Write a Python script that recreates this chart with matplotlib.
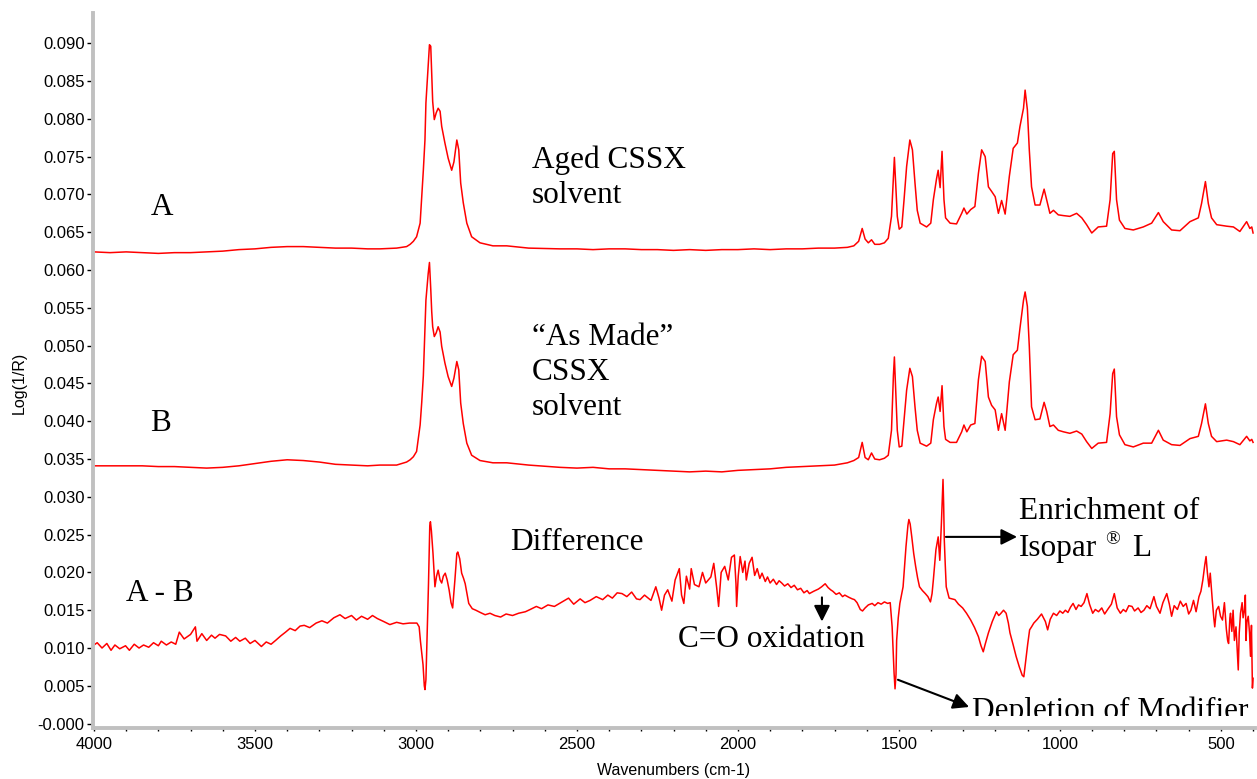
import matplotlib
matplotlib.use("Agg")
import matplotlib.pyplot as plt
import numpy as np
from matplotlib.transforms import Bbox, TransformedBbox

# ---------------- data ----------------
wn_ab = [4000, 3950, 3900, 3850, 3800, 3750, 3700, 3650, 3600, 3550,
         3500, 3450, 3400, 3350, 3300, 3250, 3200, 3150, 3112, 3060,
         3029, 3018, 3008, 2998, 2987, 2982, 2977, 2972, 2969, 2962,
         2958, 2954, 2951, 2948, 2943, 2937, 2931, 2925, 2920, 2910,
         2900, 2889, 2882, 2873, 2867, 2861, 2853, 2842, 2827, 2801,
         2761, 2718, 2650, 2553, 2500, 2450, 2400, 2350, 2300, 2250,
         2200, 2150, 2100, 2050, 2000, 1950, 1900, 1850, 1800, 1750,
         1700, 1660, 1640, 1625, 1614, 1605, 1595, 1585, 1575, 1560,
         1545, 1533, 1523, 1517, 1514, 1510, 1505, 1499, 1491, 1484,
         1476, 1466, 1458, 1450, 1443, 1434, 1414, 1401, 1393, 1383,
         1378, 1372, 1366, 1360, 1355, 1341, 1321, 1305, 1298, 1289,
         1277, 1264, 1253, 1243, 1232, 1222, 1212, 1201, 1191, 1181,
         1170, 1157, 1145, 1132, 1124, 1113, 1108, 1101, 1095, 1088,
         1077, 1062, 1049, 1041, 1031, 1020, 1005, 989, 969, 948,
         932, 917, 901, 881, 855, 844, 836, 831, 824, 815,
         798, 772, 741, 715, 694, 679, 653, 627, 596, 570,
         560, 548, 539, 529, 513, 482, 461, 441, 420, 410,
         404, 400]

aged_a = [.0624, .0623, .0624, .0623, .0622, .0623, .0623, .0624, .0625, .0627,
          .0628, .0630, .0631, .0631, .0630, .0629, .0629, .0628, .0628, .0629,
          .0631, .0634, .0638, .0644, .0662, .0697, .0732, .0772, .0821, .0869,
          .0898, .0896, .0861, .0823, .0799, .0808, .0814, .0810, .0790, .0768,
          .0748, .0732, .0743, .0772, .0759, .0715, .0689, .0662, .0644, .0636,
          .0632, .0632, .0629, .0628, .0628, .0627, .0628, .0628, .0627, .0627,
          .0626, .0627, .0626, .0627, .0627, .0628, .0627, .0628, .0628, .0629,
          .0629, .0630, .0632, .0638, .0655, .0641, .0636, .0640, .0634, .0634,
          .0636, .0642, .0671, .0724, .0749, .0715, .0671, .0654, .0657, .0693,
          .0737, .0772, .0759, .0715, .0679, .0662, .0657, .0662, .0693, .0721,
          .0732, .0709, .0757, .0693, .0669, .0662, .0661, .0675, .0682, .0674,
          .0680, .0684, .0728, .0759, .0750, .0710, .0704, .0697, .0675, .0692,
          .0674, .0724, .0761, .0768, .0790, .0814, .0838, .0812, .0759, .0710,
          .0686, .0686, .0707, .0693, .0675, .0679, .0673, .0672, .0671, .0675,
          .0669, .0660, .0649, .0657, .0658, .0693, .0754, .0757, .0693, .0666,
          .0655, .0653, .0657, .0662, .0676, .0664, .0653, .0652, .0664, .0669,
          .0688, .0717, .0688, .0669, .0660, .0658, .0657, .0651, .0664, .0655,
          .0657, .0649]

made_b = [.0341, .0341, .0341, .0341, .0340, .0340, .0339, .0338, .0339, .0341,
          .0344, .0347, .0349, .0348, .0346, .0343, .0342, .0341, .0342, .0342,
          .0346, .0349, .0353, .0360, .0395, .0425, .0460, .0520, .0560, .0595,
          .0610, .0575, .0545, .0525, .0512, .0517, .0525, .0518, .0499, .0477,
          .0459, .0446, .0457, .0479, .0468, .0424, .0397, .0371, .0355, .0348,
          .0345, .0345, .0342, .0339, .0338, .0339, .0337, .0337, .0336, .0335,
          .0334, .0333, .0334, .0333, .0335, .0336, .0337, .0339, .0340, .0341,
          .0342, .0345, .0348, .0352, .0372, .0352, .0349, .0358, .0350, .0349,
          .0351, .0355, .0388, .0461, .0485, .0441, .0388, .0366, .0367, .0402,
          .0441, .0470, .0459, .0419, .0388, .0371, .0367, .0371, .0402, .0424,
          .0432, .0413, .0447, .0393, .0376, .0372, .0372, .0386, .0395, .0386,
          .0395, .0397, .0455, .0486, .0479, .0432, .0421, .0415, .0388, .0410,
          .0388, .0452, .0488, .0494, .0523, .0560, .0571, .0552, .0499, .0419,
          .0402, .0403, .0425, .0413, .0393, .0395, .0388, .0386, .0384, .0387,
          .0383, .0373, .0364, .0371, .0372, .0410, .0463, .0469, .0406, .0382,
          .0369, .0366, .0371, .0371, .0388, .0375, .0369, .0368, .0377, .0380,
          .0397, .0423, .0397, .0380, .0373, .0375, .0373, .0369, .0380, .0374,
          .0376, .0372]

wn_diff = [4000, 3990, 3975, 3960, 3947, 3935, 3920, 3902, 3890, 3875,
           3860, 3846, 3830, 3815, 3800, 3791, 3775, 3760, 3746, 3735,
           3720, 3700, 3685, 3680, 3665, 3650, 3635, 3624, 3610, 3591,
           3575, 3560, 3547, 3530, 3515, 3500, 3480, 3465, 3450, 3436,
           3420, 3405, 3391, 3375, 3360, 3347, 3330, 3310, 3292, 3275,
           3255, 3236, 3220, 3200, 3185, 3169, 3150, 3135, 3120, 3100,
           3081, 3060, 3040, 3020, 2997, 2990, 2986, 2978, 2974, 2972,
           2969, 2966, 2961, 2957, 2955, 2952, 2947, 2941, 2936, 2931,
           2925, 2920, 2915, 2909, 2903, 2897, 2891, 2886, 2879, 2873,
           2870, 2864, 2858, 2852, 2847, 2836, 2825, 2814, 2800, 2785,
           2770, 2755, 2737, 2720, 2700, 2681, 2660, 2645, 2626, 2610,
           2590, 2570, 2550, 2526, 2510, 2490, 2475, 2459, 2440, 2420,
           2404, 2390, 2375, 2360, 2345, 2330, 2315, 2304, 2290, 2270,
           2255, 2245, 2237, 2228, 2218, 2205, 2195, 2182, 2175, 2168,
           2160, 2150, 2145, 2135, 2121, 2110, 2100, 2084, 2075, 2066,
           2060, 2052, 2041, 2030, 2020, 2011, 2006, 2004, 1999, 1993,
           1985, 1978, 1974, 1965, 1956, 1948, 1940, 1932, 1925, 1915,
           1908, 1900, 1890, 1880, 1872, 1864, 1855, 1845, 1835, 1825,
           1815, 1805, 1795, 1785, 1778, 1765, 1750, 1740, 1729, 1720,
           1712, 1705, 1695, 1685, 1675, 1668, 1655, 1645, 1638, 1630,
           1620, 1613, 1605, 1595, 1583, 1575, 1565, 1555, 1545, 1535,
           1527, 1521, 1515, 1512, 1509, 1507, 1502, 1497, 1487, 1478,
           1472, 1469, 1465, 1460, 1454, 1448, 1442, 1436, 1427, 1418,
           1410, 1402, 1397, 1393, 1385, 1378, 1373, 1368, 1365, 1363,
           1361, 1359, 1356, 1353, 1344, 1335, 1326, 1315, 1302, 1290,
           1277, 1265, 1253, 1245, 1238, 1232, 1222, 1210, 1197, 1190,
           1185, 1175, 1167, 1160, 1155, 1145, 1136, 1126, 1117, 1112,
           1106, 1100, 1094, 1088, 1081, 1070, 1057, 1045, 1038, 1030,
           1020, 1010, 1000, 991, 983, 975, 967, 959, 950, 942,
           934, 925, 916, 908, 898, 890, 880, 870, 861, 850,
           840, 831, 822, 812, 803, 795, 786, 776, 768, 757,
           748, 739, 730, 720, 708, 700, 689, 680, 668, 660,
           653, 645, 635, 626, 617, 608, 600, 593, 585, 577,
           568, 562, 556, 550, 546, 542, 537, 533, 527, 522,
           519, 514, 507, 501, 495, 489, 483, 479, 476, 472,
           470, 466, 462, 458, 453, 449, 446, 443, 439, 434,
           431, 427, 424, 422, 419, 415, 411, 408, 405, 402,
           400]

diff_ab = [.0104, .0107, .0100, .0106, .0097, .0104, .0099, .0103, .0097, .0105,
           .0100, .0104, .0101, .0107, .0103, .0109, .0104, .0108, .0105, .0121,
           .0112, .0118, .0128, .0109, .0119, .0110, .0117, .0113, .0118, .0116,
           .0109, .0114, .0109, .0113, .0106, .0110, .0102, .0108, .0105, .0110,
           .0116, .0121, .0126, .0123, .0129, .0130, .0127, .0133, .0136, .0133,
           .0140, .0144, .0139, .0143, .0137, .0142, .0138, .0143, .0139, .0135,
           .0131, .0134, .0132, .0133, .0133, .0128, .0109, .0078, .0050, .0045,
           .0058, .0106, .0185, .0262, .0267, .0255, .0225, .0181, .0195, .0203,
           .0190, .0186, .0195, .0199, .0190, .0177, .0160, .0153, .0190, .0225,
           .0227, .0218, .0199, .0192, .0185, .0159, .0152, .0150, .0147, .0144,
           .0146, .0143, .0141, .0145, .0143, .0146, .0148, .0151, .0155, .0152,
           .0157, .0155, .0160, .0166, .0158, .0165, .0160, .0163, .0168, .0164,
           .0170, .0166, .0173, .0172, .0168, .0174, .0165, .0164, .0170, .0163,
           .0181, .0166, .0150, .0170, .0177, .0162, .0190, .0205, .0170, .0159,
           .0195, .0178, .0205, .0184, .0181, .0200, .0186, .0194, .0212, .0180,
           .0155, .0200, .0208, .0190, .0220, .0223, .0185, .0155, .0195, .0221,
           .0200, .0215, .0190, .0212, .0220, .0196, .0205, .0192, .0199, .0188,
           .0194, .0186, .0191, .0184, .0189, .0186, .0182, .0185, .0180, .0183,
           .0177, .0179, .0173, .0176, .0172, .0175, .0178, .0181, .0185, .0180,
           .0177, .0175, .0171, .0173, .0168, .0170, .0167, .0165, .0164, .0160,
           .0151, .0149, .0153, .0157, .0159, .0156, .0160, .0158, .0161, .0159,
           .0160, .0128, .0067, .0046, .0065, .0110, .0140, .0159, .0181, .0234,
           .0262, .0270, .0264, .0247, .0225, .0208, .0193, .0181, .0176, .0172,
           .0168, .0161, .0172, .0190, .0230, .0247, .0216, .0265, .0300, .0323,
           .0290, .0243, .0210, .0181, .0166, .0165, .0164, .0158, .0153, .0146,
           .0137, .0127, .0115, .0103, .0095, .0105, .0120, .0135, .0148, .0143,
           .0145, .0150, .0146, .0133, .0120, .0104, .0089, .0075, .0064, .0062,
           .0084, .0105, .0124, .0128, .0133, .0138, .0145, .0135, .0124, .0138,
           .0146, .0143, .0149, .0146, .0150, .0147, .0154, .0159, .0151, .0157,
           .0155, .0160, .0172, .0158, .0146, .0151, .0148, .0153, .0145, .0152,
           .0158, .0172, .0153, .0146, .0151, .0148, .0156, .0155, .0149, .0153,
           .0147, .0150, .0156, .0152, .0168, .0155, .0146, .0160, .0172, .0158,
           .0142, .0156, .0151, .0162, .0155, .0159, .0145, .0150, .0163, .0148,
           .0168, .0175, .0190, .0210, .0221, .0200, .0181, .0199, .0165, .0140,
           .0128, .0150, .0155, .0142, .0137, .0160, .0125, .0110, .0106, .0140,
           .0146, .0122, .0150, .0110, .0128, .0095, .0071, .0120, .0146, .0160,
           .0140, .0150, .0170, .0110, .0135, .0142, .0120, .0089, .0130, .0047,
           .0060]

ytick_vals = [0.000, 0.005, 0.010, 0.015, 0.020, 0.025, 0.030, 0.035, 0.040, 0.045,
              0.050, 0.055, 0.060, 0.065, 0.070, 0.075, 0.080, 0.085, 0.090]
ytick_labels = ["-0.000", "0.005", "0.010", "0.015", "0.020", "0.025", "0.030",
                "0.035", "0.040", "0.045", "0.050", "0.055", "0.060", "0.065",
                "0.070", "0.075", "0.080", "0.085", "0.090"]
xtick_vals = [4000, 3500, 3000, 2500, 2000, 1500, 1000, 500]
xtick_labels = ["4000", "3500", "3000", "2500", "2000", "1500", "1000", "500"]

# ---------------- figure ----------------
W, H = 1257, 779
fig = plt.figure(figsize=(W / 100, H / 100), dpi=100)
ax = fig.add_axes([93 / W, 1 - 728 / H, (1255 - 93) / W, (728 - 13) / H])

red = "#ff0000"
ax.plot(wn_ab, aged_a, color=red, lw=1.1)
ax.plot(wn_ab, made_b, color=red, lw=1.1)
ax.plot(wn_diff, diff_ab, color=red, lw=1.1)

ax.set_xlim(4003, 394)
ax.set_ylim(-0.00058, 0.0940)

for s in ("top", "right"):
    ax.spines[s].set_visible(False)
for s in ("left", "bottom"):
    ax.spines[s].set_color("#c0c0c0")
    ax.spines[s].set_linewidth(2.8)

sans = "Liberation Sans"
serif = "Liberation Serif"
ax.set_yticks(ytick_vals)
ax.set_yticklabels(ytick_labels, fontfamily=sans, fontsize=12)
ax.set_xticks(xtick_vals)
ax.set_xticklabels(xtick_labels, fontfamily=sans, fontsize=12)
ax.set_xticks(np.arange(400, 4001, 100), minor=True)
ax.tick_params(axis="y", direction="out", length=4.5, width=1, color="black", pad=1.5)
ax.tick_params(axis="x", which="both", direction="out", length=2.5, width=1,
               color="black", pad=4)

fig.text(674 / W, 1 - 771 / H, "Wavenumbers (cm-1)", ha="center", va="center",
         fontfamily=sans, fontsize=11.5)
fig.text(19 / W, 1 - 383 / H, "Log(1/R)", ha="center", va="center",
         rotation=90, fontfamily=sans, fontsize=11.5)

fs = 22.5
def label(x, y, s, size=fs, **kw):
    return ax.text(x, y, s, fontfamily=serif, fontsize=size, ha="left",
                   va="baseline", color="black", **kw)

label(3823, 0.0673, "A")
label(3826, 0.0387, "B")
label(3901, 0.0162, "A - B")
label(2640, 0.0735, "Aged CSSX")
label(2640, 0.0689, "solvent")
label(2640, 0.0501, "\u201cAs Made\u201d")
label(2640, 0.0455, "CSSX")
label(2640, 0.0408, "solvent")
label(2708, 0.0230, "Difference")
label(2186, 0.0101, "C=O oxidation")
label(1127, 0.0271, "Enrichment of")
label(1127, 0.0222, "Isopar")
label(858, 0.0238, "\u00ae", size=14)
label(776, 0.0222, "L")
t = label(1273, 0.0006, "Depletion of Modifier", clip_on=True)
clip_frac = (728 - 716) / (728 - 13)
t.set_clip_box(TransformedBbox(Bbox([[0.0, clip_frac], [1.0, 1.0]]), ax.transAxes))

arrow = dict(arrowstyle="-|>", color="black", lw=1.5, mutation_scale=24,
             shrinkA=0, shrinkB=0)
ax.annotate("", xy=(1133, 0.0247), xytext=(1354, 0.0247), arrowprops=arrow)
ax.annotate("", xy=(1739, 0.0135), xytext=(1739, 0.0167), arrowprops=arrow)
ax.annotate("", xy=(1282, 0.0022), xytext=(1503, 0.0058), arrowprops=arrow)

fig.savefig("out.png", dpi=100)
